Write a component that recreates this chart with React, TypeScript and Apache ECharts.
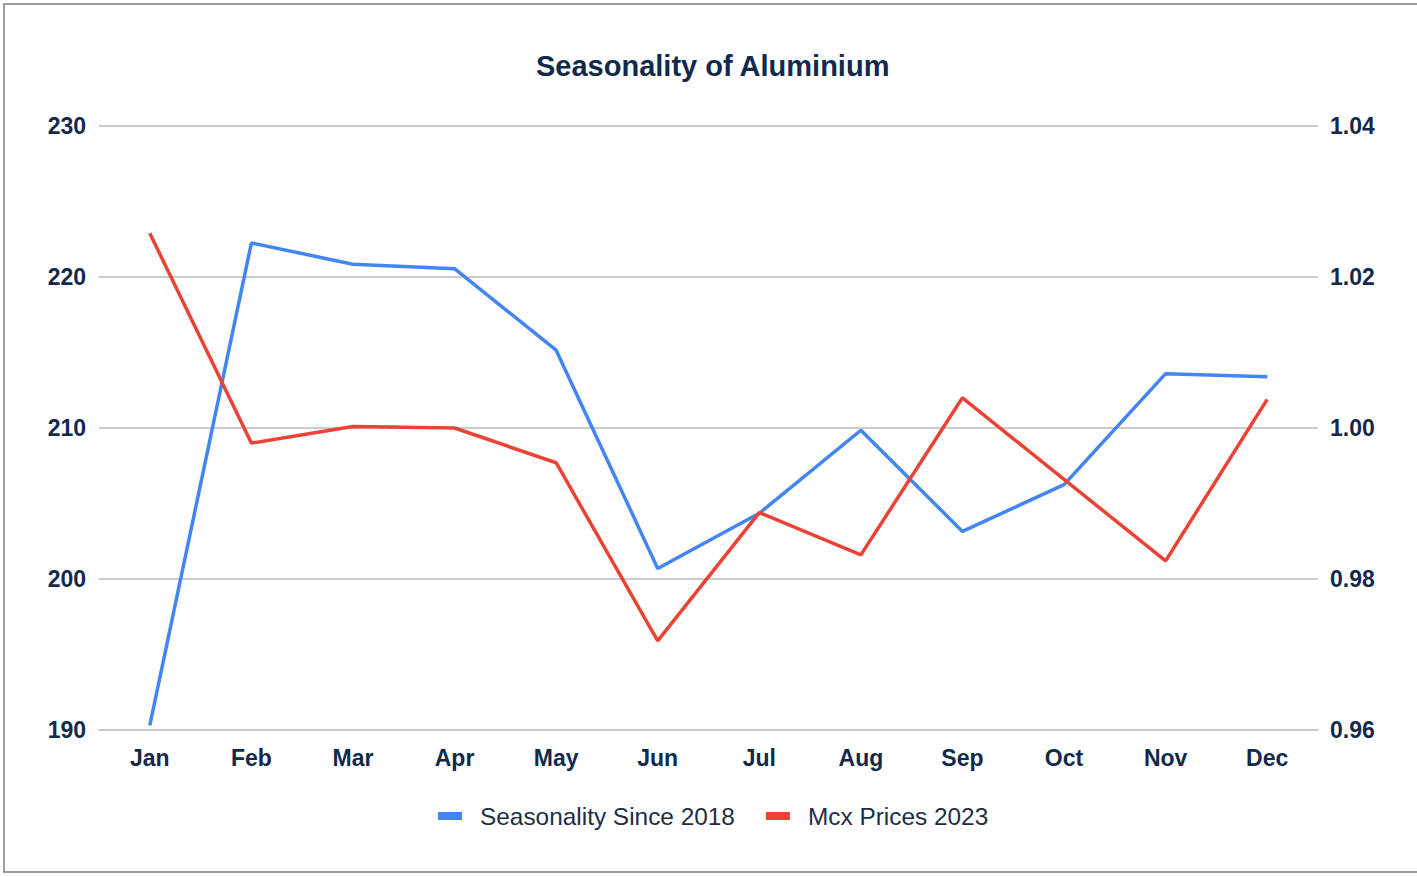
import React, { useEffect, useRef } from "react";
import * as echarts from "echarts";

const months = ["Jan", "Feb", "Mar", "Apr", "May", "Jun", "Jul", "Aug", "Sep", "Oct", "Nov", "Dec"];
const seasonality = [0.9606, 1.0245, 1.0217, 1.0211, 1.0103, 0.9814, 0.9887, 0.9997, 0.9863, 0.9925, 1.0072, 1.0068];
const mcxPrices = [222.9, 209.0, 210.1, 210.0, 207.7, 195.9, 204.4, 201.6, 212.0, 206.6, 201.2, 211.9];
const leftTicks = { min: 190, max: 230, interval: 10 };
const rightTicks = { min: 0.96, max: 1.04, interval: 0.02 };

const textColor = "#13294b";

export default function App() {
  const ref = useRef<HTMLDivElement>(null);
  useEffect(() => {
    document.body.style.margin = "0";
    const chart = echarts.init(ref.current!, null, { renderer: "svg" });
    chart.setOption({
      animation: false,
      backgroundColor: "#ffffff",
      title: {
        text: "Seasonality of Aluminium",
        left: 531,
        top: 46,
        textStyle: { fontFamily: "Liberation Sans", fontSize: 29, fontWeight: "bold", color: textColor },
      },
      legend: {
        bottom: 43,
        left: 433,
        itemWidth: 24,
        itemHeight: 8,
        itemGap: 31,
        icon: "rect",
        textStyle: { fontFamily: "Liberation Sans", fontSize: 24.4, color: "#1f2d44", padding: [0, 0, 0, 13] },
        data: ["Seasonality Since 2018", "Mcx Prices 2023"],
      },
      grid: { left: 99, right: 99, top: 126, bottom: 146, containLabel: false },
      xAxis: {
        type: "category",
        data: months,
        boundaryGap: true,
        axisLine: { show: true, lineStyle: { color: "#cccccc", width: 2 } },
        axisTick: { show: false },
        axisLabel: { fontFamily: "Liberation Sans", fontSize: 23, fontWeight: "bold", color: textColor, margin: 16 },
      },
      yAxis: [
        {
          type: "value",
          min: leftTicks.min,
          max: leftTicks.max,
          interval: leftTicks.interval,
          axisLine: { show: false },
          axisTick: { show: false },
          splitLine: { lineStyle: { color: "#cccccc", width: 2 } },
          axisLabel: { fontFamily: "Liberation Sans", fontSize: 23, fontWeight: "bold", color: textColor, margin: 13 },
        },
        {
          type: "value",
          min: rightTicks.min,
          max: rightTicks.max,
          interval: rightTicks.interval,
          axisLine: { show: false },
          axisTick: { show: false },
          splitLine: { show: false },
          axisLabel: {
            fontFamily: "Liberation Sans",
            fontSize: 23,
            fontWeight: "bold",
            color: textColor,
            margin: 12,
            formatter: (v: number) => v.toFixed(2),
          },
        },
      ],
      series: [
        {
          name: "Seasonality Since 2018",
          type: "line",
          yAxisIndex: 1,
          data: seasonality,
          showSymbol: false,
          lineStyle: { color: "#4285F4", width: 3.5 },
          itemStyle: { color: "#4285F4" },
        },
        {
          name: "Mcx Prices 2023",
          type: "line",
          yAxisIndex: 0,
          data: mcxPrices,
          showSymbol: false,
          lineStyle: { color: "#EA4335", width: 3.5 },
          itemStyle: { color: "#EA4335" },
        },
      ],
    });
    return () => chart.dispose();
  }, []);
  return (
    <div style={{ position: "relative", width: 1417, height: 876, overflow: "hidden", background: "#fff" }}>
      <div ref={ref} style={{ position: "absolute", left: 0, top: 0, width: 1417, height: 876 }} />
      <div
        style={{
          position: "absolute",
          left: 3,
          top: 3,
          width: 1420,
          height: 870,
          borderLeft: "2px solid #9e9e9e",
          borderTop: "2px solid #9e9e9e",
          borderBottom: "2px solid #9e9e9e",
          boxSizing: "border-box",
          pointerEvents: "none",
        }}
      />
    </div>
  );
}
